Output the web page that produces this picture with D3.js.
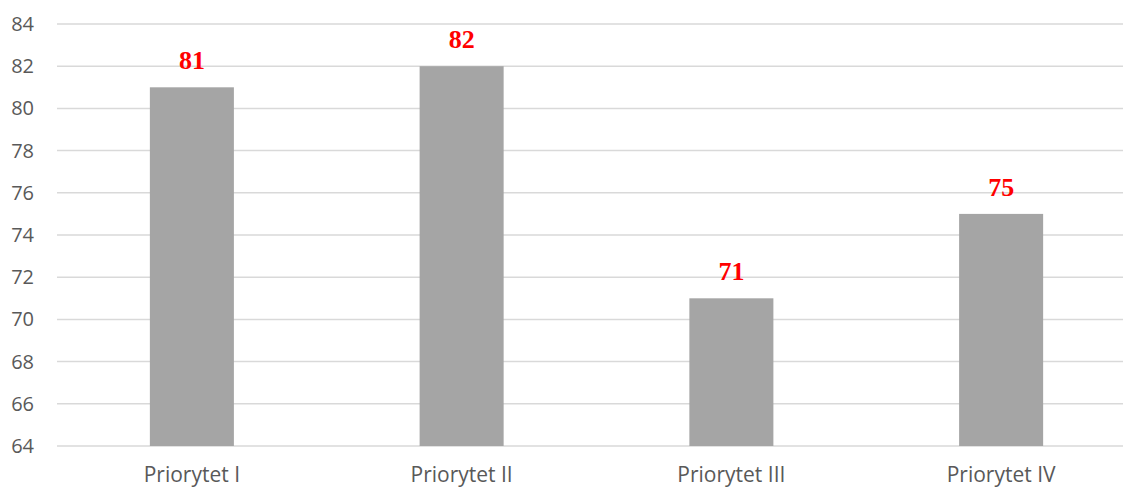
<!DOCTYPE html>
<html>
<head>
<meta charset="utf-8">
<script src="https://cdn.jsdelivr.net/npm/d3@7"></script>
<style>
html,body{margin:0;padding:0;background:#fff;}
svg{display:block;}
</style>
</head>
<body>
<svg id="chart" width="1123" height="487"></svg>
<script>
const categories = ["Priorytet I", "Priorytet II", "Priorytet III", "Priorytet IV"];
const values = [81, 82, 71, 75];
const yTicks = [64, 66, 68, 70, 72, 74, 76, 78, 80, 82, 84];

(function () {
const svg = d3.select("#chart");
const mLeft = 57, mRight = 1136, mTop = 24, mBottom = 446;

const x = d3.scaleBand().domain(categories).range([mLeft, mRight])
  .paddingInner(0.6885).paddingOuter(0.6885 / 2);
const y = d3.scaleLinear().domain([64, 84]).range([mBottom, mTop]);

// gridlines
svg.append("g").selectAll("line").data(yTicks).join("line")
  .attr("x1", mLeft).attr("x2", 1123)
  .attr("y1", d => y(d)).attr("y2", d => y(d))
  .attr("stroke", "#d9d9d9").attr("stroke-width", 1.5);

// y axis labels
const yAxis = d3.axisLeft(y).tickValues(yTicks).tickSize(0).tickPadding(0);
const ya = svg.append("g").attr("transform", `translate(${mLeft - 23},0)`).call(yAxis);
ya.select(".domain").remove();
ya.selectAll("text").attr("font-family", "'Open Sans', sans-serif")
  .attr("font-size", 20).attr("fill", "#595959").attr("text-anchor", "end");

// bars
svg.append("g").selectAll("rect").data(values).join("rect")
  .attr("x", (d, i) => x(categories[i]))
  .attr("width", x.bandwidth())
  .attr("y", d => y(d))
  .attr("height", d => mBottom - y(d))
  .attr("fill", "#a5a5a5");

// data labels
svg.append("g").selectAll("text").data(values).join("text")
  .attr("x", (d, i) => x(categories[i]) + x.bandwidth() / 2)
  .attr("y", d => y(d) - 18)
  .attr("text-anchor", "middle")
  .attr("font-family", "'Liberation Serif', 'Times New Roman', serif")
  .attr("font-weight", "bold").attr("font-size", 26)
  .attr("fill", "#ff0000")
  .text(d => d);

// x axis labels
const xAxis = d3.axisBottom(x).tickSize(0).tickPadding(0);
const xa = svg.append("g").attr("transform", `translate(0,${mBottom + 36})`).call(xAxis);
xa.select(".domain").remove();
xa.selectAll("text").attr("dy", 0).attr("font-family", "'Open Sans', sans-serif")
  .attr("font-size", 21).attr("fill", "#595959");
})();
</script>
</body>
</html>
